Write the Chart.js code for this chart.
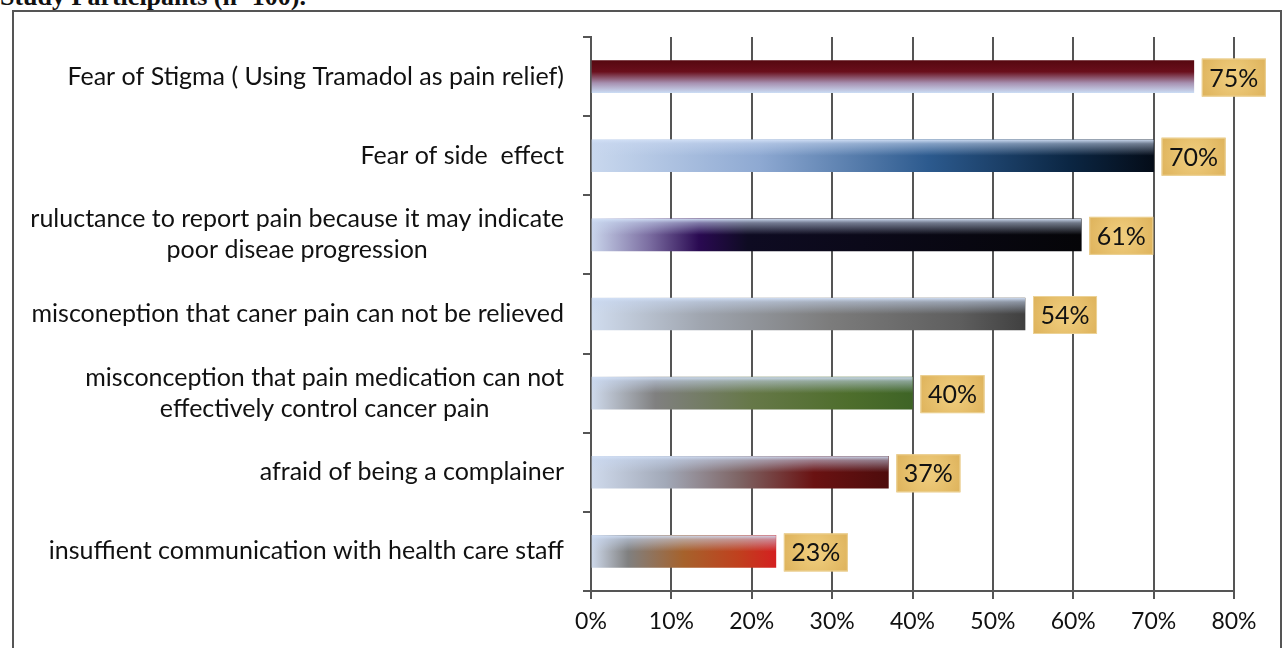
<!DOCTYPE html>
<html>
<head>
<meta charset="utf-8">
<script src="https://cdn.jsdelivr.net/npm/chart.js@4/dist/chart.umd.min.js"></script>
<style>
    body { margin: 0; background: #fff; overflow: hidden; }
    #title {
        position: absolute; left: 0; top: -18px;
        font: bold 26px "Liberation Serif", serif; color: #111;
        white-space: nowrap;
    }
    #frame {
        position: absolute; left: 12px; top: 10px; width: 1270px; height: 700px;
        border: 2px solid #555; box-sizing: border-box;
    }
    #myChart { position: absolute; left: 0; top: 0; }
</style>
</head>
<body>
<div id="title">Study Participants (n=100).</div>
<div id="frame"></div>
<canvas id="myChart" width="1286" height="648"></canvas>
<script>
"use strict";

let Chart = window.Chart;

// data
const categories = [
    ['Fear of Stigma ( Using Tramadol as pain relief)'],
    ['Fear of side  effect'],
    ['ruluctance to report pain because it may indicate', 'poor diseae progression'],
    ['misconeption that caner pain can not be relieved'],
    ['misconception that pain medication can not', 'effectively control cancer pain'],
    ['afraid of being a complainer'],
    ['insuffient communication with health care staff'],
];
const values = [75, 70, 61, 54, 40, 37, 23];
const xTickLabels = ['0%', '10%', '20%', '30%', '40%', '50%', '60%', '70%', '80%'];

// styles
const barThickness = 32;
const verticalFill = [true, false, false, false, false, false, false];
const fillStops = [
    [[0, '#560810'], [0.35, '#6a0f1c'], [0.7, '#a690b0'], [1, '#cadaf2']],
    [[0, '#c9d8ee'], [0.3, '#8ea9d2'], [0.6, '#2c5a8e'], [0.85, '#0b2643'], [1, '#040c18']],
    [[0, '#cad6ec'], [0.12, '#7a6ca0'], [0.22, '#2a0a52'], [0.32, '#0e0b22'], [1, '#050508']],
    [[0, '#d0dcee'], [0.25, '#a0a6b0'], [0.55, '#7c7c7c'], [0.85, '#5e5e5e'], [1, '#404040']],
    [[0, '#cfdaec'], [0.2, '#808080'], [0.5, '#667848'], [0.8, '#4e6e2c'], [1, '#3e6426']],
    [[0, '#cfdaec'], [0.25, '#a2a9b8'], [0.5, '#7e6464'], [0.75, '#6a1212'], [1, '#4e0c0c']],
    [[0, '#cfdaec'], [0.2, '#808080'], [0.5, '#a6622c'], [0.8, '#c0401e'], [1, '#d42020']],
];
const fontFamily = 'Lato, "Open Sans", sans-serif';
const labelFont = '25px ' + fontFamily;


function barFill(context) {
    const chart = context.chart;
    const xs = chart.scales.x;
    const ys = chart.scales.y;
    if (context.type !== 'data' || !xs || !ys) {
        return '#888';
    }
    const i = context.dataIndex;
    const x0 = xs.getPixelForValue(0);
    const x1 = xs.getPixelForValue(values[i]);
    const yc = ys.getPixelForValue(i);
    if (![x0, x1, yc].every(Number.isFinite)) {
        return '#888';
    }
    const h = barThickness / 2;
    const g = verticalFill[i]
        ? chart.ctx.createLinearGradient(0, yc - h, 0, yc + h)
        : chart.ctx.createLinearGradient(x0, 0, x1, 0);
    fillStops[i].forEach(([o, c]) => g.addColorStop(o, c));
    return g;
}

// light band along the top edge of the bars, and the gold value boxes
const barDecor = {
    id: 'barDecor',
    afterDatasetsDraw(chart) {
        const ctx = chart.ctx;
        const meta = chart.getDatasetMeta(0);
        meta.data.forEach((bar, i) => {
            const {x, y, base, height} = bar.getProps(['x', 'y', 'base', 'height'], true);
            const top = y - height / 2;
            ctx.save();
            if (!verticalFill[i]) {
                const g = ctx.createLinearGradient(0, top, 0, top + height * 0.5);
                g.addColorStop(0, 'rgba(210,224,246,0.95)');
                g.addColorStop(0.25, 'rgba(200,215,240,0.55)');
                g.addColorStop(1, 'rgba(200,215,240,0)');
                ctx.fillStyle = g;
                ctx.fillRect(base, top, x - base, height * 0.5);
            }

            // value box
            const bw = 64, bh = 38;
            const bx = x + 8, by = y - bh / 2 + 1;
            const rg = ctx.createRadialGradient(bx + bw / 2, by + bh / 2, 4, bx + bw / 2, by + bh / 2, 40);
            rg.addColorStop(0, '#efcc7c');
            rg.addColorStop(1, '#dcb058');
            ctx.fillStyle = rg;
            ctx.fillRect(bx, by, bw, bh);
            ctx.strokeStyle = '#ecd296';
            ctx.lineWidth = 1;
            ctx.strokeRect(bx + 0.5, by + 0.5, bw - 1, bh - 1);
            ctx.fillStyle = '#111';
            ctx.font = '25px ' + fontFamily;
            ctx.textAlign = 'center';
            ctx.textBaseline = 'middle';
            ctx.fillText(values[i] + '%', bx + bw / 2, by + bh / 2 + 1);
            ctx.restore();
        });
    }
};

// category labels: each block is centred on itself and set against the axis
const categoryLabels = {
    id: 'categoryLabels',
    afterDraw(chart) {
        const ctx = chart.ctx;
        const ys = chart.scales.y;
        const right = ys.right - 27;
        const lineHeight = 31;
        ctx.save();
        ctx.font = labelFont;
        ctx.fillStyle = '#111';
        ctx.textAlign = 'center';
        ctx.textBaseline = 'middle';
        categories.forEach((lines, i) => {
            const yc = ys.getPixelForValue(i);
            const w = Math.max(...lines.map(l => ctx.measureText(l).width));
            const cx = right - w / 2;
            lines.forEach((line, j) => {
                const y = yc + (j - (lines.length - 1) / 2) * lineHeight;
                ctx.fillText(line, cx, y);
            });
        });
        ctx.restore();
    }
};

function createConfig() {
    return {
        type: 'bar',
        data: {
            labels: categories,
            datasets: [{
                data: values,
                backgroundColor: barFill,
                borderWidth: 0,
                barThickness: barThickness,
            }],
        },
        options: {
            indexAxis: 'y',
            responsive: false,
            animation: false,
            devicePixelRatio: 1,
            layout: {padding: {left: 0, top: 37, right: 52, bottom: 0}},
            plugins: {
                legend: {display: false},
                tooltip: {enabled: false},
            },
            scales: {
                x: {
                    min: 0,
                    max: 80,
                    ticks: {
                        stepSize: 10,
                        padding: 9,
                        color: '#111',
                        font: {family: fontFamily, size: 23},
                        callback: (v, i) => xTickLabels[i],
                    },
                    grid: {color: '#555', lineWidth: 2, tickLength: 8},
                    border: {color: '#555', width: 2},
                    afterFit: scale => { scale.height = 57; },
                },
                y: {
                    ticks: {display: false},
                    grid: {drawOnChartArea: false, color: '#555', lineWidth: 2, tickLength: 8, offset: true},
                    border: {color: '#555', width: 2},
                    afterFit: scale => { scale.width = 591; },
                },
            },
        },
        plugins: [barDecor, categoryLabels],
    };
}

new Chart(document.getElementById('myChart'), createConfig());
</script>
</body>
</html>
